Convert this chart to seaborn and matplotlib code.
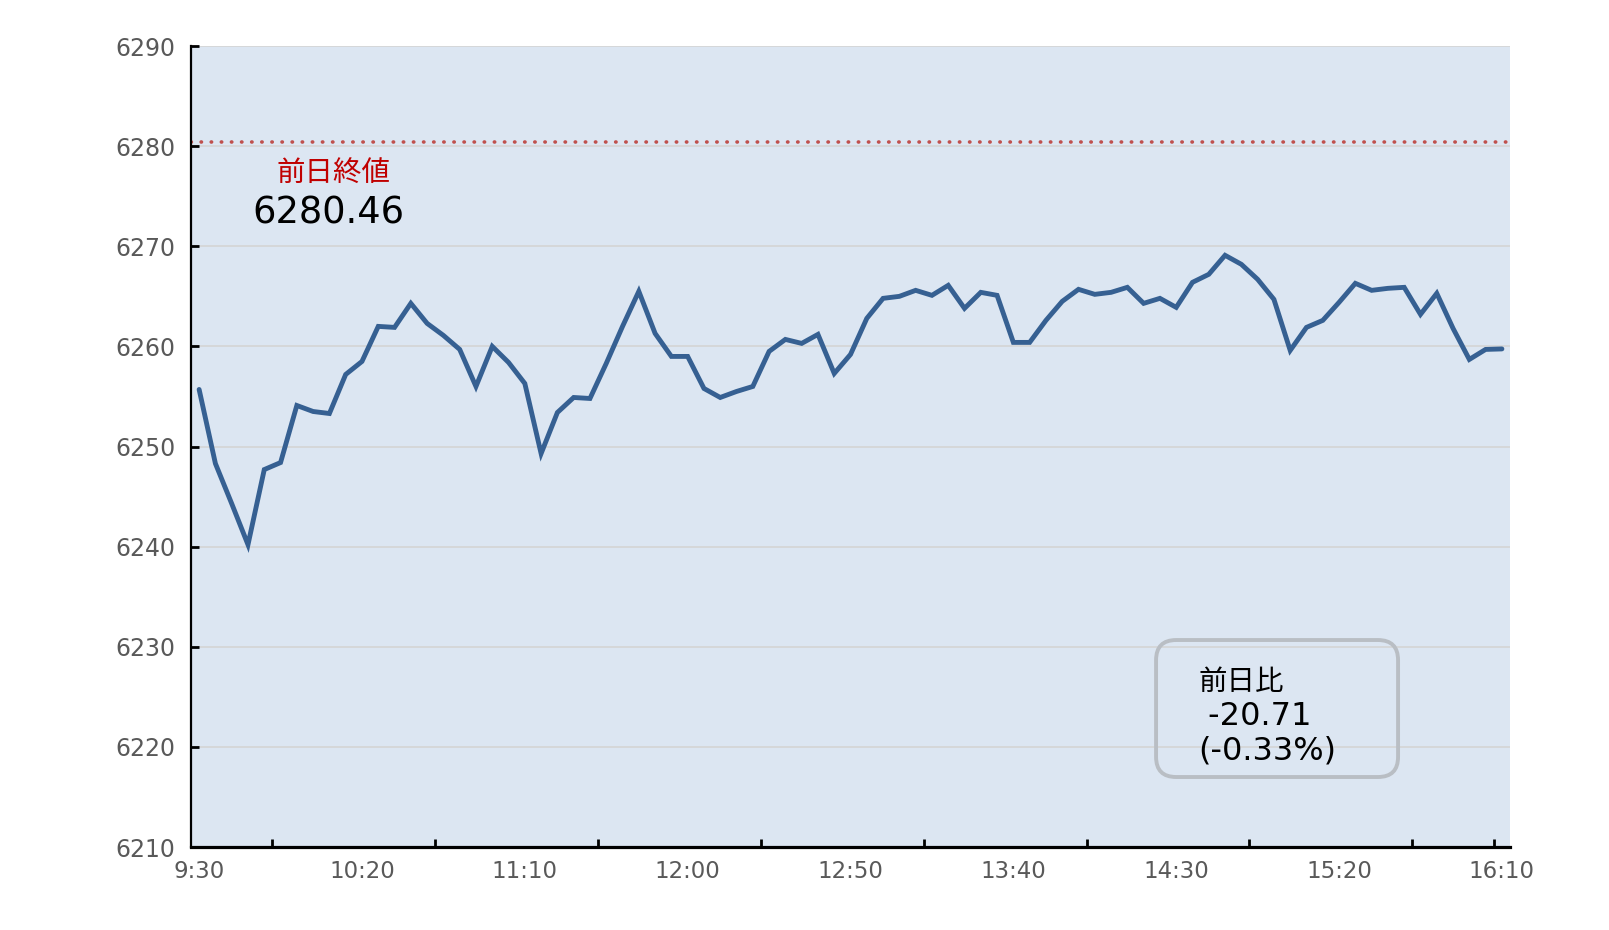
import numpy as np
import pandas as pd
import matplotlib.pyplot as plt
import seaborn as sns
from matplotlib.patches import FancyBboxPatch

# index values, 5-minute steps from 9:30 to 16:10
prices = [
    6255.7, 6248.3, 6244.3, 6240.2, 6247.7, 6248.4, 6254.1, 6253.5, 6253.3, 6257.2,
    6258.5, 6262.0, 6261.9, 6264.3, 6262.3, 6261.1, 6259.7, 6256.0, 6260.0, 6258.4,
    6256.3, 6249.3, 6253.4, 6254.9, 6254.8, 6258.3, 6262.0, 6265.5, 6261.3, 6259.0,
    6259.0, 6255.8, 6254.9, 6255.5, 6256.0, 6259.5, 6260.7, 6260.3, 6261.2, 6257.3,
    6259.2, 6262.8, 6264.8, 6265.0, 6265.6, 6265.1, 6266.1, 6263.8, 6265.4, 6265.1,
    6260.4, 6260.4, 6262.6, 6264.5, 6265.7, 6265.2, 6265.4, 6265.9, 6264.3, 6264.8,
    6263.9, 6266.4, 6267.2, 6269.1, 6268.2, 6266.7, 6264.7, 6259.6, 6261.9, 6262.6,
    6264.4, 6266.3, 6265.6, 6265.8, 6265.9, 6263.2, 6265.3, 6261.8, 6258.7, 6259.7,
    6259.75,
]
time_labels = ["9:30", "10:20", "11:10", "12:00", "12:50", "13:40", "14:30", "15:20", "16:10"]
label_step = 10
prev_close = 6280.46
change = -20.71
change_pct = -0.33
y_ticks = [6210, 6220, 6230, 6240, 6250, 6260, 6270, 6280, 6290]

df = pd.DataFrame({"idx": np.arange(len(prices)), "price": prices})

sns.set_style("white")
plt.rcParams["font.family"] = ["DejaVu Sans", "Noto Sans CJK JP"]

fig = plt.figure(figsize=(16.09, 9.30), dpi=100)
ax = fig.add_axes([0.1187, 0.0892, 0.8198, 0.8613])
ax.set_facecolor("#DCE6F2")

for v in y_ticks[1:]:
    ax.axhline(v, color="#D4D4D4", lw=1.2, zorder=0)

ax.axhline(prev_close, color="#C0504D", lw=2.6, linestyle=(0, (0.1, 2.7)),
           dash_capstyle="round", zorder=2)

sns.lineplot(data=df, x="idx", y="price", ax=ax, color="#366092", lw=3.5,
             solid_joinstyle="miter", zorder=3)

n = len(prices)
ax.set_xlim(-0.5, n - 0.5)
ax.set_ylim(y_ticks[0], y_ticks[-1])
ax.set_xlabel("")
ax.set_ylabel("")

ax.set_yticks(y_ticks)
ax.set_xticks(np.arange(0, n, label_step))
ax.set_xticklabels(time_labels)
minor = list(np.arange(label_step / 2 - 0.5, n - 1, label_step)) + [n - 1.5]
ax.set_xticks(minor, minor=True)

# seaborn's white style switches tick marks off, turn them back on
ax.tick_params(which="both", bottom=True, left=True)
ax.tick_params(axis="y", direction="in", length=6, width=2, color="black",
               labelsize=17, labelcolor="#595959", pad=11)
ax.tick_params(axis="x", which="major", length=0, labelsize=16.5,
               labelcolor="#595959", pad=9)
ax.tick_params(axis="x", which="minor", direction="in", length=6, width=2,
               color="black")

for side in ["top", "right"]:
    ax.spines[side].set_visible(False)
ax.spines["left"].set_color("black")
ax.spines["left"].set_linewidth(1.6)
ax.spines["bottom"].set_color("black")
ax.spines["bottom"].set_linewidth(2.3)

ax.text(8.28, 6277.35, "前日終値", color="#C00000", fontsize=20.5,
        ha="center", va="center")
ax.text(7.97, 6273.3, f"{prev_close:.2f}", color="black", fontsize=26.5,
        ha="center", va="center")

box = FancyBboxPatch((0.7185, 0.1645), 0.1504, 0.1473,
                     boxstyle="round,pad=0,rounding_size=0.0125",
                     mutation_aspect=1609 / 930, transform=fig.transFigure,
                     facecolor="none", edgecolor="#B9BEC4", lw=2.8, zorder=5)
fig.patches.append(box)

ax.text(61.34, 6226.5, "前日比", color="black", fontsize=20.5, ha="left", va="center")
ax.text(61.34, 6223.06, f" {change:.2f}", color="black", fontsize=23, ha="left", va="center")
ax.text(61.34, 6219.6, f"({change_pct:.2f}%)", color="black", fontsize=23,
        ha="left", va="center")

plt.savefig("out.png", dpi=100)
